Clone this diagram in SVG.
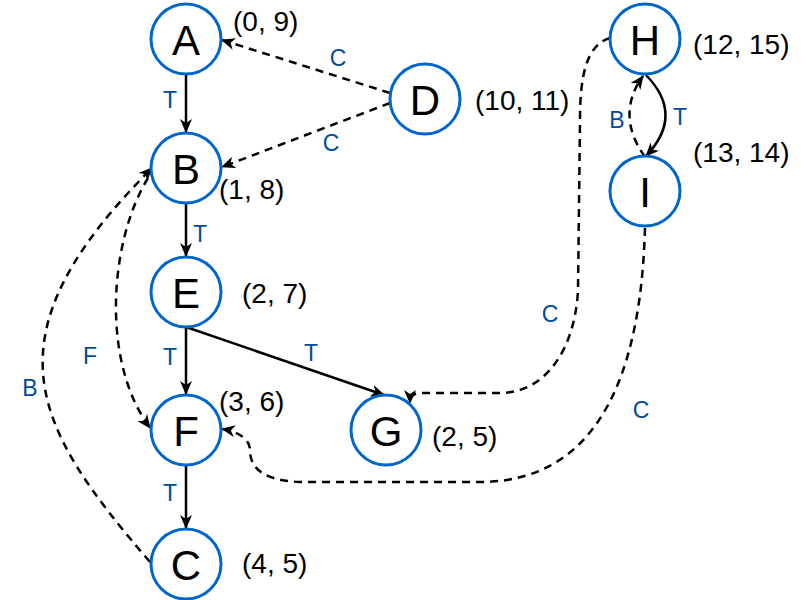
<svg xmlns="http://www.w3.org/2000/svg" width="801" height="600" viewBox="0 0 801 600">
<style>
.node{fill:#fff;stroke:#0066CC;stroke-width:3}
.nl{font-family:"Liberation Sans",Arial,sans-serif;font-size:42px;fill:#000;text-anchor:middle;dominant-baseline:central}
.cl{font-family:"Liberation Sans",Arial,sans-serif;font-size:28px;fill:#000;dominant-baseline:central}
.el{font-family:"Liberation Sans",Arial,sans-serif;font-size:23px;fill:#004C99;text-anchor:middle;dominant-baseline:central}
.e{fill:none;stroke:#000;stroke-width:2.5}
.d{stroke-dasharray:8 6}
</style>
<defs>
<marker id="arr" viewBox="0 0 14 12" refX="13" refY="6" markerWidth="14" markerHeight="12" markerUnits="userSpaceOnUse" orient="auto">
<path d="M0,0 L14,6 L0,12 L4,6 Z" fill="#000"/>
</marker>
</defs>
<g id="connectors">
<path class="e" d="M186,75 L186,132" marker-end="url(#arr)"/>
<path class="e d" d="M390,93 L222,40" marker-end="url(#arr)"/>
<path class="e d" d="M390,103 L222,167" marker-end="url(#arr)"/>
<path class="e" d="M186,203 L186,256" marker-end="url(#arr)"/>
<path class="e" d="M186,327 L186,394" marker-end="url(#arr)"/>
<path class="e" d="M186,327 L384,395" marker-end="url(#arr)"/>
<path class="e" d="M186,465 L186,528" marker-end="url(#arr)"/>
<path class="e d" d="M150,562 C 32,425 -17,337 152,168" marker-end="url(#arr)"/>
<path class="e d" d="M148,178 C 110,240 100,360 150,428" marker-end="url(#arr)"/>
<path class="e" d="M646,75 Q 685,115 646,156" marker-end="url(#arr)"/>
<path class="e d" d="M645,157 Q 615,115 643,76" marker-end="url(#arr)"/>
<path class="e d" d="M610,38 C 585,45 580,80 580,120 L 578,290 C 575,350 545,393 500,393 L 420,393 Q 410,393 410,403" marker-end="url(#arr)"/>
<path class="e d" d="M645,228 C 642,330 620,482 480,482 L 300,482 C 255,480 250,462 250,450 C 250,440 240,432 222,429" marker-end="url(#arr)"/>
</g>
<g id="edge-labels">
<text class="el" x="170" y="100">T</text>
<text class="el" x="338" y="58">C</text>
<text class="el" x="331" y="143">C</text>
<text class="el" x="200" y="234">T</text>
<text class="el" x="170" y="357">T</text>
<text class="el" x="311" y="353">T</text>
<text class="el" x="90" y="356">F</text>
<text class="el" x="30" y="388">B</text>
<text class="el" x="170" y="493">T</text>
<text class="el" x="617" y="120">B</text>
<text class="el" x="680" y="117">T</text>
<text class="el" x="550" y="314">C</text>
<text class="el" x="641" y="410">C</text>
</g>
<g id="node-A"><circle class="node" cx="186" cy="39" r="35"/><text class="nl" x="186" y="40">A</text><text class="cl" x="233" y="21">(0, 9)</text></g>
<g id="node-B"><circle class="node" cx="186" cy="168" r="35"/><text class="nl" x="186" y="169">B</text><text class="cl" x="219" y="189">(1, 8)</text></g>
<g id="node-D"><circle class="node" cx="425" cy="99" r="35"/><text class="nl" x="425" y="100">D</text><text class="cl" x="475" y="100">(10, 11)</text></g>
<g id="node-E"><circle class="node" cx="186" cy="292" r="35"/><text class="nl" x="186" y="293">E</text><text class="cl" x="242" y="293">(2, 7)</text></g>
<g id="node-F"><circle class="node" cx="186" cy="430" r="35"/><text class="nl" x="186" y="431">F</text><text class="cl" x="219" y="401">(3, 6)</text></g>
<g id="node-G"><circle class="node" cx="386" cy="430" r="35"/><text class="nl" x="386" y="431">G</text><text class="cl" x="432" y="436">(2, 5)</text></g>
<g id="node-C"><circle class="node" cx="186" cy="564" r="35"/><text class="nl" x="186" y="565">C</text><text class="cl" x="242" y="563">(4, 5)</text></g>
<g id="node-H"><circle class="node" cx="645" cy="39" r="35"/><text class="nl" x="645" y="40">H</text><text class="cl" x="693" y="44">(12, 15)</text></g>
<g id="node-I"><circle class="node" cx="645" cy="191" r="35"/><text class="nl" x="645" y="192">I</text><text class="cl" x="693" y="152">(13, 14)</text></g>
</svg>
